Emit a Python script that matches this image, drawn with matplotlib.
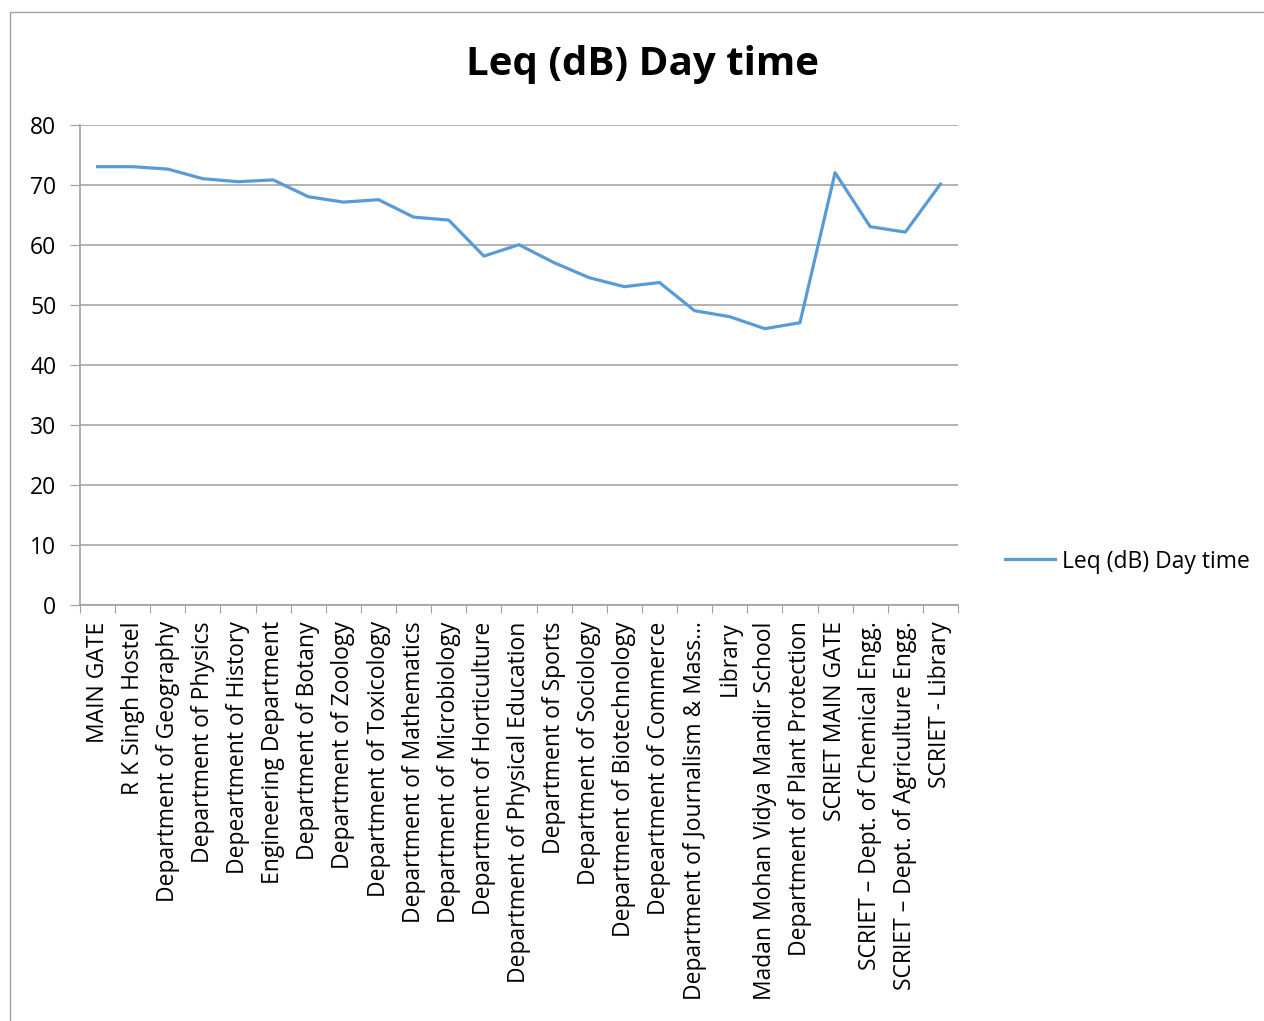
import matplotlib.pyplot as plt
import numpy as np
from matplotlib.patches import Rectangle

plt.rcParams['font.family'] = ['Open Sans', 'DejaVu Sans']

# Sampling locations
locations = [
    'MAIN GATE', 'R K Singh Hostel', 'Department of Geography', 'Department of Physics',
    'Depeartment of History', 'Engineering Department', 'Department of Botany',
    'Department of Zoology', 'Department of Toxicology', 'Department of Mathematics',
    'Department of Microbiology', 'Department of Horticulture',
    'Department of Physical Education', 'Department of Sports', 'Department of Sociology',
    'Department of Biotechnology', 'Depeartment of Commerce',
    'Department of Journalism & Mass...', 'Library', 'Madan Mohan Vidya Mandir School',
    'Department of Plant Protection', 'SCRIET MAIN GATE',
    'SCRIET \u2013 Dept. of Chemical Engg.', 'SCRIET \u2013 Dept. of Agriculture Engg.',
    'SCRIET - Library',
]
# Leq (dB) day time readings
leq_day = [73.0, 73.0, 72.6, 71.0, 70.5, 70.8, 68.0, 67.1, 67.5, 64.6, 64.1, 58.1,
           60.0, 57.0, 54.5, 53.0, 53.7, 49.0, 48.0, 46.0, 47.0, 72.0, 63.0, 62.1, 70.1]

fig = plt.figure(figsize=(12.64, 10.21), dpi=100)
ax = fig.add_axes([80 / 1264, 1 - 604.7 / 1021, 878 / 1264, 480 / 1021])

# outer chart border
fig.patches.append(Rectangle((10 / 1264, -0.01), 1.0, 1 - 12 / 1021 + 0.01,
                             transform=fig.transFigure, fill=False,
                             edgecolor='#a0a0a0', linewidth=1.0))

x = np.arange(len(leq_day))
ax.plot(x, leq_day, color='#5B9BD5', linewidth=2.3, label='Leq (dB) Day time')

ax.set_xlim(-0.5, len(leq_day) - 0.5)
ax.set_ylim(0, 80)
ax.set_yticks(range(0, 81, 10))
ax.tick_params(axis='y', labelsize=16.5, length=7, color='#a0a0a0', pad=10)

ax.set_xticks(np.arange(-0.5, len(leq_day), 1.0))
ax.set_xticklabels([])
ax.tick_params(axis='x', which='major', length=6, color='#a0a0a0')
ax.set_xticks(x, minor=True)
ax.set_xticklabels(locations, minor=True, rotation=90, fontsize=16.5)
ax.tick_params(axis='x', which='minor', length=0, pad=12)

ax.grid(axis='y', color='#a6a6a6', linewidth=1.2)
ax.set_axisbelow(True)
for side in ['top', 'right']:
    ax.spines[side].set_visible(False)
for side in ['left', 'bottom']:
    ax.spines[side].set_color('#a0a0a0')
    ax.spines[side].set_linewidth(1.2)

fig.text(642 / 1264, 1 - 64 / 1021, 'Leq (dB) Day time', ha='center', va='center',
         fontsize=29, fontweight='bold')

ax.legend(loc='center left', bbox_to_anchor=(1.03, 0.09), frameon=False,
          fontsize=16.5, handlelength=2.2, handletextpad=0.3)

plt.savefig('out.png', dpi=100)
plt.close()
